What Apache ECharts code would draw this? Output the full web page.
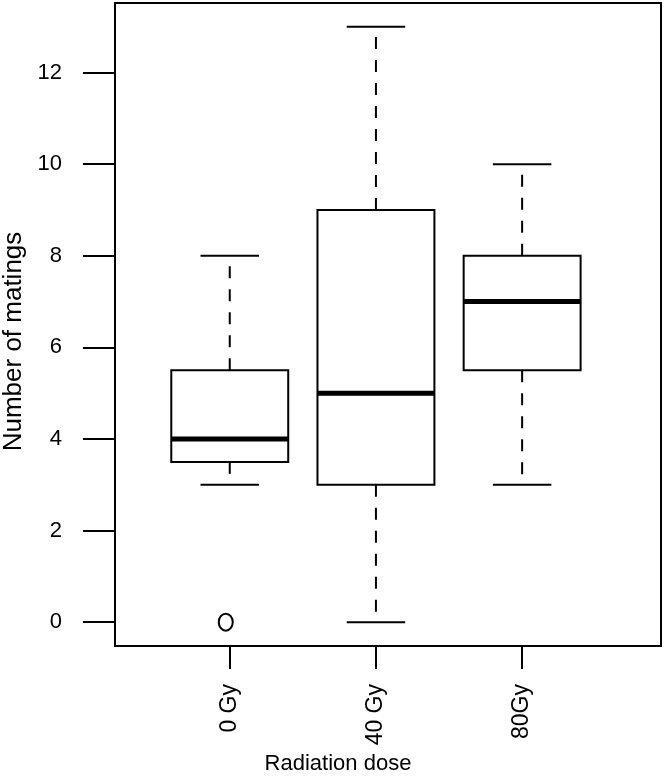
<!DOCTYPE html>
<html>
<head>
<meta charset="utf-8">
<script src="https://cdn.jsdelivr.net/npm/echarts@6/dist/echarts.min.js"></script>
<style>html,body{margin:0;padding:0;background:#fff;}#c{width:664px;height:777px;}</style>
</head>
<body>
<div id="c"></div>
<script>
var categories = ['0 Gy', '40 Gy', '80Gy'];
var positions = [1, 2, 3];
var lowWhisker = [3, 0, 3];
var q1 = [3.5, 3, 5.5];
var median = [4, 5, 7];
var q3 = [5.5, 9, 8];
var highWhisker = [8, 13, 10];
var outlierPos = [1];
var outlierVal = [0];
var yTicks = [0, 2, 4, 6, 8, 10, 12];

var boxData = positions.map(function (p, i) {
  return [p, lowWhisker[i], q1[i], median[i], q3[i], highWhisker[i]];
});
var outlierData = outlierPos.map(function (p, i) { return [p, outlierVal[i]]; });

var chart = echarts.init(document.getElementById('c'), null, {renderer: 'canvas'});
var FONT = '"Liberation Sans", Arial, sans-serif';

function renderBox(params, api) {
  var x = api.value(0);
  var lo = api.coord([x, api.value(1)]);
  var b1 = api.coord([x, api.value(2)]);
  var md = api.coord([x, api.value(3)]);
  var b3 = api.coord([x, api.value(4)]);
  var hi = api.coord([x, api.value(5)]);
  var w = api.size([0.8, 0])[0];
  var cx = lo[0];
  var stroke = {stroke: '#000', lineWidth: 2, fill: null};
  return {
    type: 'group',
    children: [
      {type: 'line', shape: {x1: cx, y1: b3[1], x2: cx, y2: hi[1]}, style: {stroke: '#000', lineWidth: 2, lineDash: [12, 11]}},
      {type: 'line', shape: {x1: cx, y1: b1[1], x2: cx, y2: lo[1]}, style: {stroke: '#000', lineWidth: 2, lineDash: [12, 11]}},
      {type: 'line', shape: {x1: cx - w / 4, y1: hi[1], x2: cx + w / 4, y2: hi[1]}, style: stroke},
      {type: 'line', shape: {x1: cx - w / 4, y1: lo[1], x2: cx + w / 4, y2: lo[1]}, style: stroke},
      {type: 'rect', shape: {x: cx - w / 2, y: b3[1], width: w, height: b1[1] - b3[1]}, style: {stroke: '#000', lineWidth: 2, fill: '#fff'}},
      {type: 'line', shape: {x1: cx - w / 2, y1: md[1], x2: cx + w / 2, y2: md[1]}, style: {stroke: '#000', lineWidth: 5}}
    ]
  };
}

function renderOutlier(params, api) {
  var p = api.coord([api.value(0), api.value(1)]);
  return {
    type: 'ellipse',
    shape: {cx: p[0] - 4, cy: p[1], rx: 7, ry: 8.5},
    style: {stroke: '#000', lineWidth: 2, fill: null}
  };
}

chart.setOption({
  backgroundColor: '#fff',
  animation: false,
  grid: {left: 115, right: 3, top: 3, bottom: 131, containLabel: false, outerBoundsMode: 'none', show: true, borderColor: '#000', borderWidth: 2, backgroundColor: 'transparent'},
  xAxis: {
    type: 'value', min: 0.215, max: 3.95,
    name: 'Radiation dose', nameLocation: 'middle', nameGap: 107,
    nameTextStyle: {fontFamily: FONT, fontSize: 22, color: '#000', padding: [0, 100, 0, 0]},
    axisLine: {show: false, onZero: false},
    splitLine: {show: false},
    axisTick: {show: true, length: 23, lineStyle: {color: '#000', width: 2}, customValues: positions},
    axisLabel: {
      customValues: positions, rotate: 90, margin: 38,
      fontFamily: FONT, fontSize: 23, color: '#000',
      formatter: function (v) { var i = positions.indexOf(Math.round(v)); return i >= 0 ? categories[i] : ''; }
    }
  },
  yAxis: {
    type: 'value', min: -0.52, max: 13.52,
    name: 'Number of matings', nameLocation: 'middle', nameGap: 88,
    nameTextStyle: {fontFamily: FONT, fontSize: 26, color: '#000', padding: [0, 34, 0, 0]},
    axisLine: {show: false, onZero: false},
    splitLine: {show: false},
    axisTick: {show: true, length: 32, lineStyle: {color: '#000', width: 2}, customValues: yTicks},
    axisLabel: {customValues: yTicks, margin: 53, fontFamily: FONT, fontSize: 22, color: '#000'}
  },
  series: [
    {type: 'custom', renderItem: renderBox, data: boxData, encode: {x: 0, y: [1, 2, 3, 4, 5]}},
    {type: 'custom', renderItem: renderOutlier, data: outlierData, encode: {x: 0, y: 1}}
  ]
});
</script>
</body>
</html>
